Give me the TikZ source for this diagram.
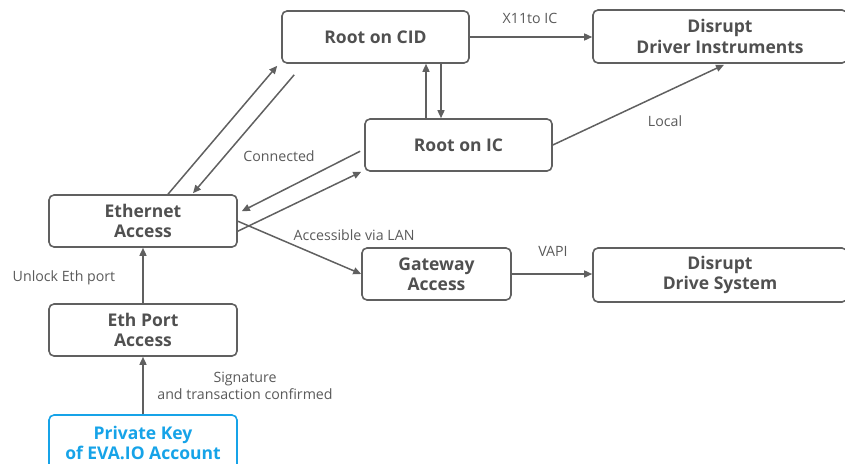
\documentclass[tikz,border=0pt]{standalone}
\usepackage{fontspec}
\setmainfont{Open Sans}
\usetikzlibrary{arrows.meta,calc}
\definecolor{ln}{RGB}{96,96,96}
\definecolor{tx}{RGB}{80,80,80}
\definecolor{lt}{RGB}{90,90,90}
\definecolor{bl}{RGB}{22,163,232}
\tikzset{
  box/.style={draw=ln, line width=1.6pt, rounded corners=5pt, align=center,
    text=tx, font=\fontsize{17.5}{20.5}\selectfont\bfseries, inner sep=0pt},
  conn/.style={draw=ln, line width=1.5pt, -{Triangle[length=8pt,width=7pt]}},
  lbl/.style={text=lt, font=\fontsize{14.2}{16.5}\selectfont, inner sep=0pt, align=center}
}
\begin{document}
\begin{tikzpicture}[x=1pt,y=-1pt]
\useasboundingbox (0,0) rectangle (845,463);
\node[box, minimum width=187pt, minimum height=52pt] (cid) at (375.5,37) {Root on CID};
\node[box, minimum width=254pt, minimum height=53pt] (ddi) at (720,36.5) {Disrupt\\Driver Instruments};
\node[box, minimum width=187pt, minimum height=52pt] (ic) at (458.5,145) {Root on IC};
\node[box, minimum width=188pt, minimum height=52pt] (eth) at (143,221) {Ethernet\\Access};
\node[box, minimum width=188pt, minimum height=52pt] (ep) at (143,330) {Eth Port\\Access};
\node[box, draw=bl, text=bl, minimum width=188pt, minimum height=56pt] (pk) at (143,443) {Private Key\\of EVA.IO Account};
\node[box, minimum width=149pt, minimum height=52pt] (gw) at (436.5,274) {Gateway\\Access};
\node[box, minimum width=254pt, minimum height=54pt] (ds) at (720,275) {Disrupt\\Drive System};

\draw[conn] (pk.north) -- (ep.south);
\draw[conn] (ep.north) -- (eth.south);
\draw[conn] ([shift={(25,0)}]eth.north) -- ([shift={(-4,2)}]cid.south west);
\draw[conn] ([shift={(13,11)}]cid.south west) -- ([shift={(50,-1)}]eth.north);
\draw[conn] ([shift={(-4,33)}]ic.north west) -- ([shift={(4,17)}]eth.north east);
\draw[conn] ([shift={(0,37)}]eth.north east) -- ([shift={(-3,0)}]ic.south west);
\draw[conn] ([shift={(0,27)}]eth.north east) -- (gw.west);
\draw[conn] ([xshift=-32.5]ic.north) -- ([xshift=50.5]cid.south);
\draw[conn] ([xshift=65.5]cid.south) -- ([xshift=-17.5]ic.north);
\draw[conn] (cid.east) -- (ddi.west |- cid.east);
\draw[conn] (ic.east) -- ([shift={(4,1)}]ddi.south);
\draw[conn] (gw.east) -- (ds.west |- gw.east);

\node[lbl] (l1) at (530,18) {X11to IC};
\node[lbl] (l2) at (665,121) {Local};
\node[lbl] (l3) at (279,156) {Connected};
\node[lbl] (l4) at (354,235) {Accessible via LAN};
\node[lbl] (l5) at (553,251) {VAPI};
\node[lbl] (l6) at (64,278) {Unlock Eth port};
\node[lbl] (l7) at (245,386) {Signature\\and transaction confirmed};
\end{tikzpicture}
\end{document}
